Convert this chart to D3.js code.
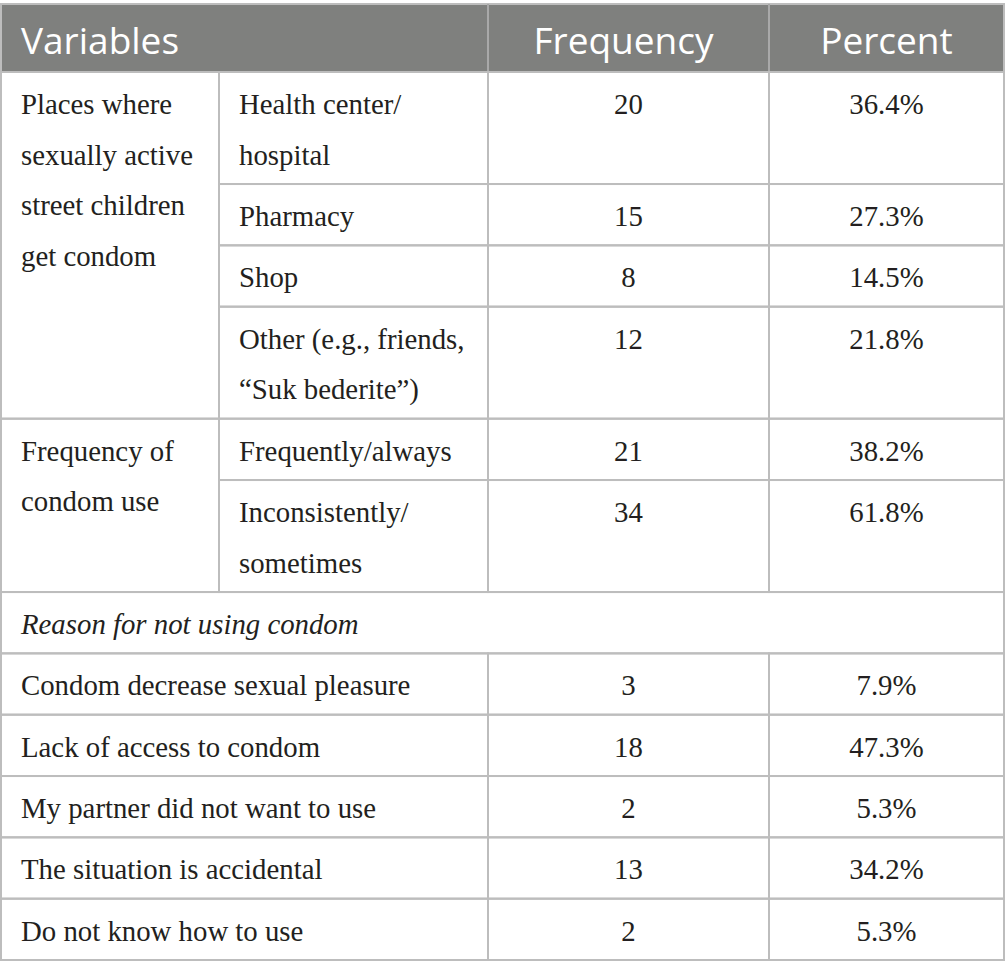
<!DOCTYPE html>
<html>
<head>
<meta charset="utf-8">
<script src="https://cdn.jsdelivr.net/npm/d3@7"></script>
<style>
  body { margin: 0; background: #fff; }
  .body-text { font-family: "Liberation Serif", "Times New Roman", Times, "DejaVu Serif", serif; }
</style>
</head>
<body>
<svg id="table"></svg>
<script>
const width = 1005;
const height = 975;

// table content
const headers = ["Variables", "Frequency", "Percent"];

const groupLabels = [
  ["Places where", "sexually active", "street children", "get condom"],
  ["Frequency of", "condom use"],
];
const groupItems = [
  [["Health center/", "hospital"], ["Pharmacy"], ["Shop"], ["Other (e.g., friends,", "\u201CSuk bederite\u201D)"]],
  [["Frequently/always"], ["Inconsistently/", "sometimes"]],
];
const groupFreq = [[20, 15, 8, 12], [21, 34]];
const groupPct = [[36.4, 27.3, 14.5, 21.8], [38.2, 61.8]];

const reasonTitle = "Reason for not using condom";
const reasons = [
  "Condom decrease sexual pleasure",
  "Lack of access to condom",
  "My partner did not want to use",
  "The situation is accidental",
  "Do not know how to use",
];
const reasonFreq = [3, 18, 2, 13, 2];
const reasonPct = [7.9, 47.3, 5.3, 34.2, 5.3];

const svg = d3.select("#table").attr("width", width).attr("height", height);

const colEdges = [1, 219, 488, 769, 1004]; // column boundaries
const x = d3.scaleOrdinal().domain([0, 1, 2, 3, 4]).range(colEdges);
const pct = (v) => d3.format(".1f")(v) + "%";

const headerTop = 4;
const headerBottom = 72;
const lineGap = 50.7;
const rowPad = 0.21; // extra height of a row, in line units

// build the list of body cells; rows are measured in "line units"
const cells = [];
let u = 0;
groupLabels.forEach((label, g) => {
  const start = u;
  groupItems[g].forEach((item, i) => {
    const h = item.length + rowPad;
    cells.push({ c0: 1, c1: 2, u0: u, u1: u + h, lines: item, align: "start" });
    cells.push({ c0: 2, c1: 3, u0: u, u1: u + h, lines: [String(groupFreq[g][i])], align: "middle" });
    cells.push({ c0: 3, c1: 4, u0: u, u1: u + h, lines: [pct(groupPct[g][i])], align: "middle" });
    u += h;
  });
  cells.push({ c0: 0, c1: 1, u0: start, u1: u, lines: label, align: "start" });
});
cells.push({ c0: 0, c1: 4, u0: u, u1: u + 1 + rowPad, lines: [reasonTitle], align: "start", italic: true });
u += 1 + rowPad;
reasons.forEach((r, i) => {
  const h = 1 + rowPad;
  cells.push({ c0: 0, c1: 2, u0: u, u1: u + h, lines: [r], align: "start" });
  cells.push({ c0: 2, c1: 3, u0: u, u1: u + h, lines: [String(reasonFreq[i])], align: "middle" });
  cells.push({ c0: 3, c1: 4, u0: u, u1: u + h, lines: [pct(reasonPct[i])], align: "middle" });
  u += h;
});

const y = d3.scaleLinear().domain([0, u]).range([headerBottom, 960]);

// header
svg
  .append("rect")
  .attr("x", x(0))
  .attr("y", headerTop)
  .attr("width", x(4) - x(0))
  .attr("height", headerBottom - headerTop)
  .attr("fill", "#7f807e")
  .attr("stroke", "#bdbdbd")
  .attr("stroke-width", 2);

[2, 3].forEach((c) => {
  svg
    .append("line")
    .attr("x1", x(c))
    .attr("x2", x(c))
    .attr("y1", headerTop)
    .attr("y2", headerBottom)
    .attr("stroke", "#a9a9a9")
    .attr("stroke-width", 2);
});

svg
  .selectAll(".head")
  .data(headers)
  .enter()
  .append("text")
  .attr("class", "head")
  .attr("x", (d, i) => (i === 0 ? x(0) + 20 : (x(i + 1) + x(i + 2)) / 2 - (i === 1 ? 5 : 0)))
  .attr("y", 54)
  .attr("text-anchor", (d, i) => (i === 0 ? "start" : "middle"))
  .attr("fill", "#fff")
  .style("font-family", "'Open Sans', sans-serif")
  .style("font-size", "37px")
  .text((d) => d);

// body cells
const cell = svg
  .selectAll(".cell")
  .data(cells)
  .enter()
  .append("g")
  .attr("class", "cell");

cell
  .append("rect")
  .attr("x", (d) => x(d.c0))
  .attr("y", (d) => y(d.u0))
  .attr("width", (d) => x(d.c1) - x(d.c0))
  .attr("height", (d) => y(d.u1) - y(d.u0))
  .attr("fill", "none")
  .attr("stroke", "#bdbdbd")
  .attr("stroke-width", 2);

cell
  .selectAll("text")
  .data((d) => d.lines.map((t, i) => ({ t, i, d })))
  .enter()
  .append("text")
  .attr("class", "body-text")
  .attr("x", (e) => (e.d.align === "start" ? x(e.d.c0) + 20 : (x(e.d.c0) + x(e.d.c1)) / 2))
  .attr("y", (e) => y(e.d.u0) + 42 + e.i * lineGap)
  .attr("text-anchor", (e) => e.d.align)
  .attr("fill", "#231f20")
  .style("font-size", "28.8px")
  .style("font-style", (e) => (e.d.italic ? "italic" : "normal"))
  .text((e) => e.t);
</script>
</body>
</html>
